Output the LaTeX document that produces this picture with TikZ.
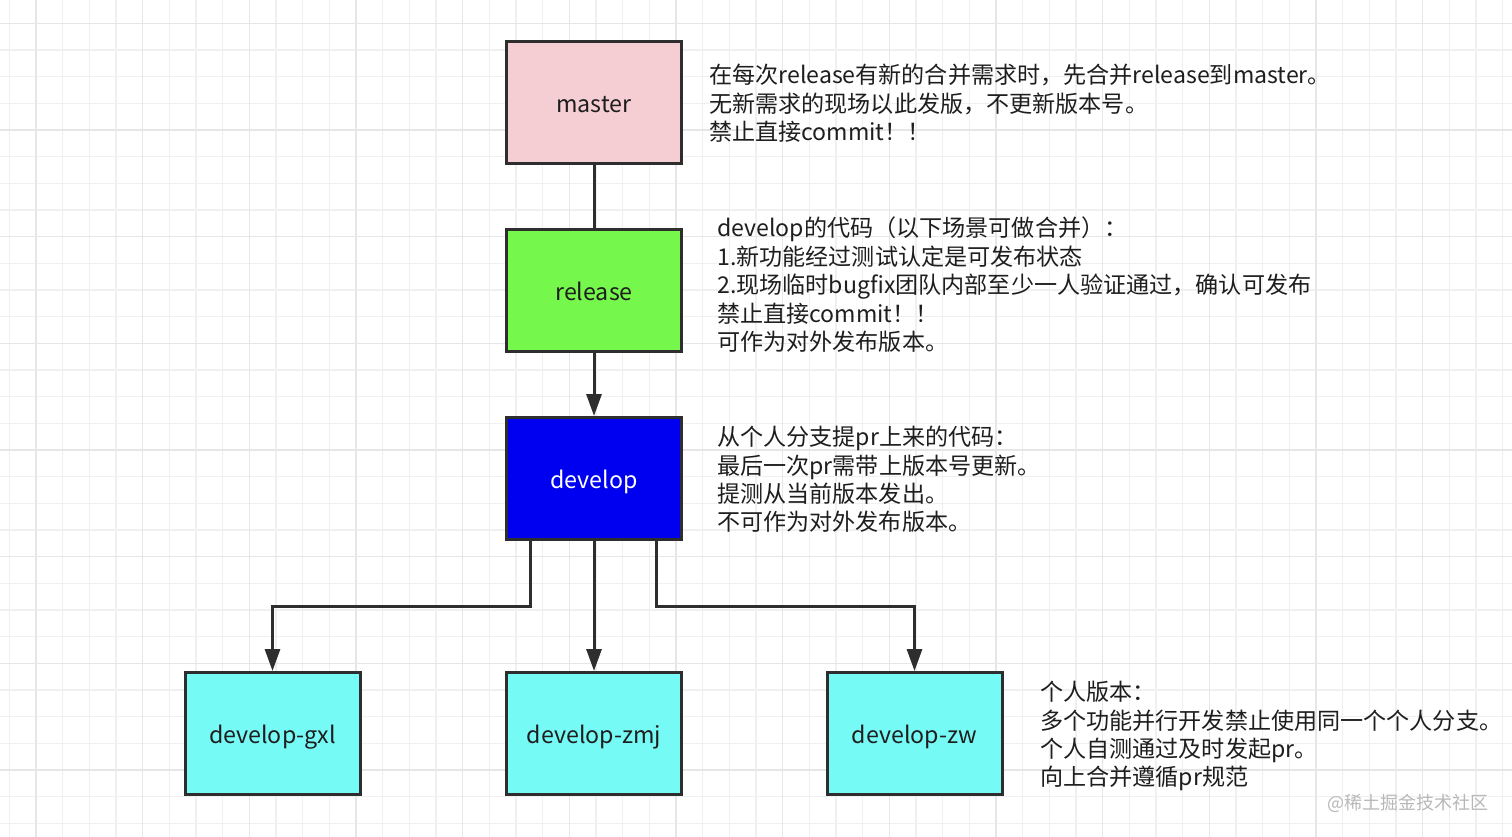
\documentclass[tikz,border=0pt]{standalone}
\usepackage{fontspec}
\newfontfamily\cjk{Noto Sans CJK SC}
\usetikzlibrary{arrows.meta}
\definecolor{gridminor}{HTML}{F0F0F0}
\definecolor{gridmajor}{HTML}{E6E6E6}
\definecolor{edge}{HTML}{2E2E2E}
\definecolor{pinkfill}{HTML}{F5CED4}
\definecolor{greenfill}{HTML}{76F74B}
\definecolor{bluefill}{HTML}{0000F0}
\definecolor{cyanfill}{HTML}{76FAF6}
\definecolor{txt}{HTML}{1E1E1E}
\definecolor{wm}{HTML}{B8B8B8}
\tikzset{
  box/.style={draw=edge, line width=3pt, minimum width=175pt, minimum height=122pt, inner sep=0pt,
    text height=20pt, text depth=0pt,
    font=\cjk\fontsize{23.2}{26}\selectfont, text=txt},
  note/.style={anchor=north west, inner sep=0pt, align=left, text=txt,
    font=\cjk\fontsize{23.1}{28.4}\selectfont},
  conn/.style={draw=edge, line width=3pt},
  arr/.style={conn, -{Triangle[length=22pt,width=15pt]}},
}
\begin{document}
\begin{tikzpicture}[x=1pt,y=-1pt]
\useasboundingbox (0,0) rectangle (1512,837);
\fill[white] (0,0) rectangle (1512,837);
% grid
\foreach \i in {0,...,57} {
  \draw[gridminor, line width=1.2pt] ({9.33+26.667*\i},0) -- ({9.33+26.667*\i},837);
}
\foreach \i in {0,...,31} {
  \draw[gridminor, line width=1.2pt] (0,{23.3+26.667*\i}) -- (1512,{23.3+26.667*\i});
}
\foreach \i in {0,...,14} {
  \draw[gridmajor, line width=1.5pt] ({36+106.667*\i},0) -- ({36+106.667*\i},837);
}
\foreach \i in {0,...,7} {
  \draw[gridmajor, line width=1.5pt] (0,{23.3+106.667*\i}) -- (1512,{23.3+106.667*\i});
}
% boxes
\node[box, fill=pinkfill] (master) at (594,102.5) {master};
\node[box, fill=greenfill] (release) at (594,290.5) {release};
\node[box, fill=bluefill, text=white] (develop) at (594,478.5) {develop};
\node[box, fill=cyanfill] (gxl) at (272.5,733.5) {develop{-}gxl};
\node[box, fill=cyanfill] (zmj) at (594,733.5) {develop{-}zmj};
\node[box, fill=cyanfill] (zw) at (914.5,733.5) {develop{-}zw};
% connectors
\draw[conn] (master) -- (release);
\draw[arr] (release) -- (develop);
\draw[arr] (develop) -- (zmj);
\draw[arr] ([xshift=-64pt]develop.south) -- ++(0,65) -| (gxl.north);
\draw[arr] ([xshift=62pt]develop.south) -- ++(0,65) -| (zw.north);
% notes
\node[note] (n1) at (709,64) {在每次release有新的合并需求时，先合并release到master。\\无新需求的现场以此发版，不更新版本号。\\禁止直接commit！！};
\node[note] (n2) at (717,217) {develop的代码（以下场景可做合并）：\\1.新功能经过测试认定是可发布状态\\2.现场临时bugfix团队内部至少一人验证通过，确认可发布\\禁止直接commit！！\\可作为对外发布版本。};
\node[note] (n3) at (717,426) {从个人分支提pr上来的代码：\\最后一次pr需带上版本号更新。\\提测从当前版本发出。\\不可作为对外发布版本。};
\node[note] (n4) at (1040,681) {个人版本：\\多个功能并行开发禁止使用同一个个人分支。\\个人自测通过及时发起pr。\\向上合并遵循pr规范};
\node[anchor=east, inner sep=0pt, text=wm, font=\cjk\fontsize{18}{20}\selectfont] (wmk) at (1489,803) {@稀土掘金技术社区};
\end{tikzpicture}
\end{document}
